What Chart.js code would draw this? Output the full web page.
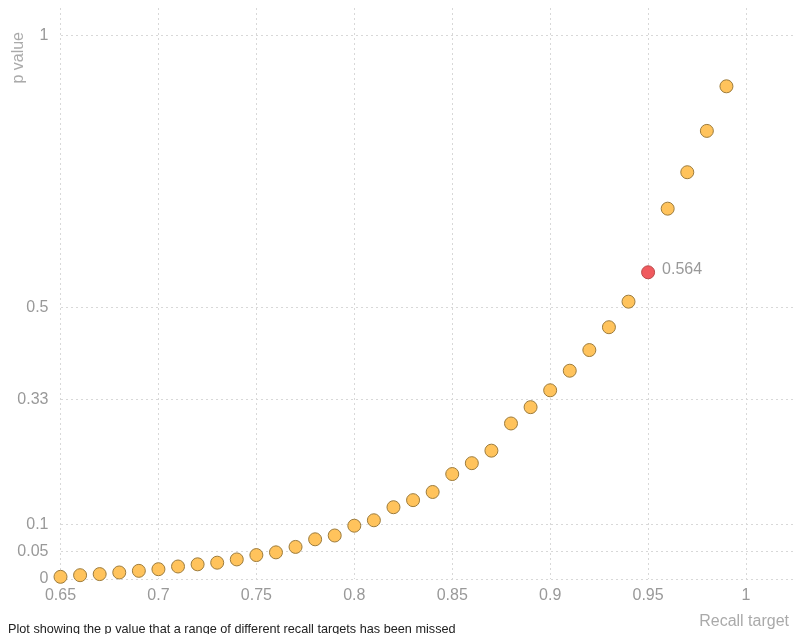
<!DOCTYPE html>
<html>
<head>
<meta charset="utf-8">
<script src="https://cdn.jsdelivr.net/npm/chart.js@4.4.1/dist/chart.umd.min.js"></script>
<style>
  html, body { margin: 0; padding: 0; background: #fff; overflow: hidden; }
  #wrap { position: relative; width: 795px; height: 634px; }
  #caption {
    position: absolute; left: 8px; top: 622px;
    font-family: "Liberation Sans", Arial, sans-serif;
    font-size: 12.7px; color: #222; white-space: nowrap;
  }
</style>
</head>
<body>
<div id="wrap">
  <canvas id="chart" width="795" height="634"></canvas>
  <div id="caption">Plot showing the p value that a range of different recall targets has been missed</div>
</div>
<script>
// Recall targets tested and the p value that each target has been missed
const recallTargets = [
  0.65, 0.66, 0.67, 0.68, 0.69, 0.70, 0.71, 0.72, 0.73, 0.74,
  0.75, 0.76, 0.77, 0.78, 0.79, 0.80, 0.81, 0.82, 0.83, 0.84,
  0.85, 0.86, 0.87, 0.88, 0.89, 0.90, 0.91, 0.92, 0.93, 0.94,
  0.95, 0.96, 0.97, 0.98, 0.99
];
const pValues = [
  0.004, 0.007, 0.009, 0.012, 0.015, 0.018, 0.023, 0.027, 0.030, 0.036,
  0.044, 0.049, 0.059, 0.073, 0.080, 0.098, 0.108, 0.132, 0.145, 0.160,
  0.193, 0.213, 0.236, 0.286, 0.316, 0.347, 0.383, 0.421, 0.463, 0.510,
  0.564, 0.681, 0.748, 0.824, 0.906
];
// The target that is called out with its value
const highlightTarget = 0.95;

const xTickValues = [0.65, 0.7, 0.75, 0.8, 0.85, 0.9, 0.95, 1];
const yTickValues = [0, 0.05, 0.1, 0.33, 0.5, 1];

const FONT = '"Liberation Sans", Arial, sans-serif';
const points = recallTargets.map((x, i) => ({ x: x, y: pValues[i] }));
const isHighlight = (ctx) => ctx.raw && Math.abs(ctx.raw.x - highlightTarget) < 1e-9;

// keep the plot area flush with the canvas edges
const noEdgePadding = (s) => {
  s.paddingTop = 0; s.paddingBottom = 0; s.paddingLeft = 0; s.paddingRight = 0;
};

const annotations = {
  id: 'annotations',
  afterDatasetsDraw(chart) {
    const { ctx, chartArea } = chart;
    const meta = chart.getDatasetMeta(0);
    ctx.save();
    ctx.font = '16px ' + FONT;
    ctx.fillStyle = '#999';
    // value label beside the highlighted point
    recallTargets.forEach((x, i) => {
      if (Math.abs(x - highlightTarget) < 1e-9) {
        const el = meta.data[i];
        ctx.textAlign = 'left';
        ctx.textBaseline = 'middle';
        ctx.fillText(pValues[i].toFixed(3), el.x + 14, el.y - 3);
      }
    });
    // axis titles
    ctx.textAlign = 'right';
    ctx.textBaseline = 'middle';
    ctx.fillStyle = '#aaa';
    ctx.fillText('Recall target', chart.width - 6, chartArea.bottom + 43);
    ctx.translate(19, chartArea.top + 24);
    ctx.rotate(-Math.PI / 2);
    ctx.fillText('p value', 0, 0);
    ctx.restore();
  }
};

new Chart(document.getElementById('chart'), {
  type: 'scatter',
  data: {
    datasets: [{
      data: points,
      clip: false,
      pointRadius: 6.5,
      pointHoverRadius: 6.5,
      borderWidth: 1,
      pointBackgroundColor: (ctx) => isHighlight(ctx) ? '#f05a5e' : '#ffc35c',
      pointBorderColor: (ctx) => isHighlight(ctx) ? '#b94a4a' : '#9c7b3c'
    }]
  },
  options: {
    responsive: false,
    animation: false,
    layout: { autoPadding: false, padding: { top: 8, right: 0, left: 0, bottom: 0 } },
    plugins: { legend: { display: false }, tooltip: { enabled: false } },
    scales: {
      x: {
        type: 'linear',
        min: 0.65,
        max: 1.025,
        afterBuildTicks: (s) => { s.ticks = xTickValues.map(v => ({ value: v })); },
        afterFit: (s) => { s.height = 55; noEdgePadding(s); },
        grid: { color: '#d8d8d8', lineWidth: 1, drawTicks: false },
        border: { display: false, dash: [2, 3] },
        ticks: {
          padding: 7,
          color: '#999',
          font: { family: FONT, size: 16 },
          maxRotation: 0,
          callback: (v) => String(+v.toFixed(2))
        }
      },
      y: {
        type: 'linear',
        min: 0,
        max: 1.05,
        afterBuildTicks: (s) => { s.ticks = yTickValues.map(v => ({ value: v })); },
        afterFit: (s) => { s.width = 60.5; noEdgePadding(s); },
        grid: { color: '#d8d8d8', lineWidth: 1, drawTicks: false },
        border: { display: false, dash: [2, 3] },
        ticks: {
          padding: 12,
          color: '#999',
          font: { family: FONT, size: 16 },
          callback: (v) => String(+v.toFixed(2))
        }
      }
    }
  },
  plugins: [annotations]
});
</script>
</body>
</html>
